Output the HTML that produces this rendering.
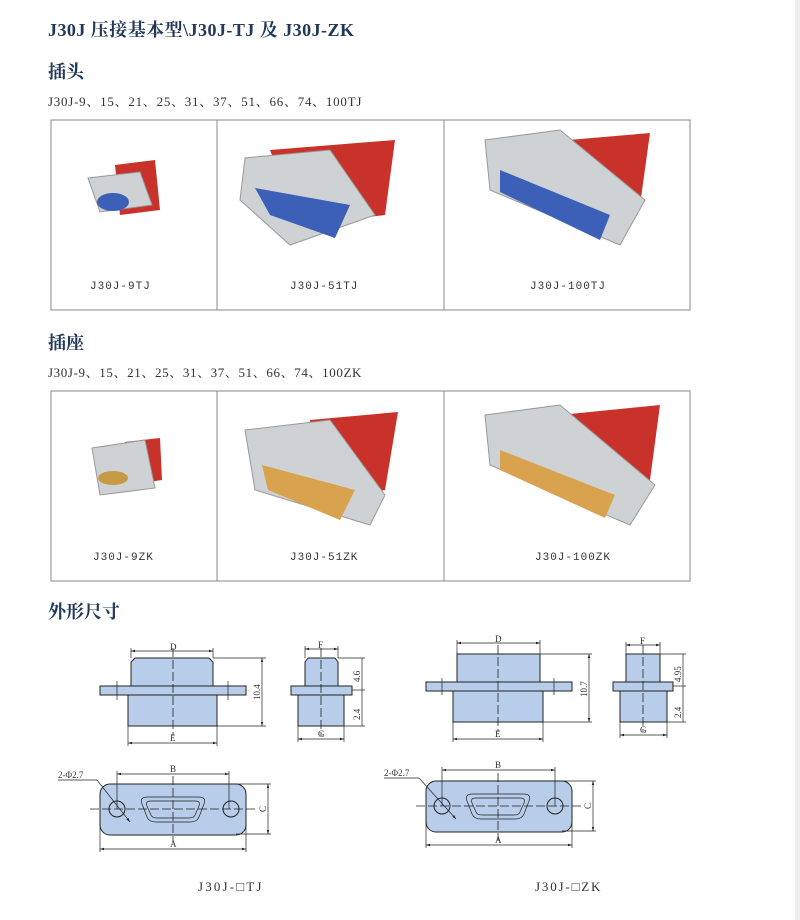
<!DOCTYPE html>
<html><head><meta charset="utf-8"><style>
body{margin:0;background:#fff;}
svg{display:block}
.t{font-family:"Liberation Serif","Noto Serif CJK SC",serif;font-weight:bold;fill:#22385a;font-size:18px}
.s{font-family:"Liberation Serif","Noto Serif CJK SC",serif;fill:#333;font-size:13px;letter-spacing:0.6px}
.l{font-family:"Liberation Mono","Noto Sans CJK SC",monospace;fill:#333;font-size:11px;letter-spacing:1px}
.d{font-family:"Liberation Serif",serif;fill:#333;font-size:9px}
.b{fill:#b7cdea;stroke:#222;stroke-width:1}
.c{stroke:#222;stroke-width:0.8;stroke-dasharray:9 3;fill:none}
.m{stroke:#222;stroke-width:0.7;fill:none}
</style></head><body>
<svg width="800" height="920" viewBox="0 0 800 920" xmlns="http://www.w3.org/2000/svg">
<defs>
<marker id="a" viewBox="0 0 10 10" refX="10" refY="5" markerWidth="6" markerHeight="6" orient="auto-start-reverse"><path d="M0,2L10,5L0,8z" fill="#222"/></marker>
</defs>
<rect x="795" y="0" width="5" height="920" fill="#eee"/>
<text class="t" x="48" y="36" textLength="306">J30J 压接基本型\J30J-TJ 及 J30J-ZK</text>
<text class="t" x="48" y="78">插头</text>
<text class="s" x="48" y="106" textLength="314">J30J-9、15、21、25、31、37、51、66、74、100TJ</text>
<rect x="51" y="120" width="639" height="190" fill="none" stroke="#888"/>
<line x1="217" y1="120" x2="217" y2="310" stroke="#888"/><line x1="444" y1="120" x2="444" y2="310" stroke="#888"/>
<text class="l" x="90" y="289">J30J-9TJ</text><text class="l" x="290" y="289">J30J-51TJ</text><text class="l" x="530" y="289">J30J-100TJ</text>

<g>
<path d="M115 165L155 160L160 210L120 215z" fill="#c8322b"/>
<path d="M88 178L140 172L152 205L100 212z" fill="#cfd2d4" stroke="#999"/>
<ellipse cx="113" cy="202" rx="16" ry="9" fill="#3c5fb8"/>
<path d="M270 150L395 140L385 215L300 225z" fill="#c8322b"/>
<path d="M245 158L330 150L375 215L290 245L240 200z" fill="#cfd2d4" stroke="#999"/>
<path d="M255 188L350 205L335 238L270 215z" fill="#3c5fb8"/>
<path d="M510 145L650 133L640 205L560 220z" fill="#c8322b"/>
<path d="M485 140L560 130L645 200L620 245L490 190z" fill="#cfd2d4" stroke="#999"/>
<path d="M500 170L610 215L600 240L500 192z" fill="#3c5fb8"/>
</g>

<text class="t" x="48" y="349">插座</text>
<text class="s" x="48" y="377" textLength="314">J30J-9、15、21、25、31、37、51、66、74、100ZK</text>
<rect x="51" y="391" width="639" height="190" fill="none" stroke="#888"/>
<line x1="217" y1="391" x2="217" y2="581" stroke="#888"/><line x1="444" y1="391" x2="444" y2="581" stroke="#888"/>
<text class="l" x="93" y="560">J30J-9ZK</text><text class="l" x="290" y="560">J30J-51ZK</text><text class="l" x="535" y="560">J30J-100ZK</text>
<g>
<path d="M125 442L160 438L162 480L128 485z" fill="#c8322b"/>
<path d="M92 448L145 440L155 488L100 495z" fill="#cfd2d4" stroke="#999"/>
<ellipse cx="113" cy="478" rx="15" ry="7" fill="#c79a45"/>
<path d="M310 420L398 412L385 490L320 500z" fill="#c8322b"/>
<path d="M245 430L330 420L385 495L370 525L255 490z" fill="#cfd2d4" stroke="#999"/>
<path d="M262 465L355 490L340 520L268 490z" fill="#d9a24e"/>
<path d="M530 418L660 405L650 480L570 495z" fill="#c8322b"/>
<path d="M485 415L560 405L655 485L630 525L490 465z" fill="#cfd2d4" stroke="#999"/>
<path d="M500 450L615 495L605 518L500 470z" fill="#d9a24e"/>
</g>

<text class="t" x="48" y="618">外形尺寸</text>

<!-- Drawing 1 -->
<path class="b" d="M131 686V662L135 658H209L213 662V686z"/>
<rect class="b" x="100" y="686" width="146" height="9"/>
<rect class="b" x="128" y="695" width="89" height="31"/>
<line class="c" x1="173" y1="648" x2="173" y2="736"/>
<line class="m" x1="117" y1="681" x2="117" y2="700"/><line class="m" x1="228" y1="681" x2="228" y2="700"/>
<line class="m" x1="131" y1="648" x2="131" y2="658"/><line class="m" x1="213" y1="648" x2="213" y2="658"/>
<line class="m" x1="131" y1="651" x2="213" y2="651" marker-start="url(#a)" marker-end="url(#a)"/>
<text class="d" x="170" y="650">D</text>
<line class="m" x1="128" y1="726" x2="128" y2="746"/><line class="m" x1="217" y1="726" x2="217" y2="746"/>
<line class="m" x1="128" y1="743" x2="217" y2="743" marker-start="url(#a)" marker-end="url(#a)"/>
<text class="d" x="170" y="741">E</text>
<line class="m" x1="213" y1="658" x2="266" y2="658"/><line class="m" x1="217" y1="726" x2="266" y2="726"/>
<line class="m" x1="262" y1="658" x2="262" y2="726" marker-start="url(#a)" marker-end="url(#a)"/>
<text class="d" transform="translate(260,700) rotate(-90)">10.4</text>

<path class="b" d="M305 686V662L308 658H335L338 662V686z"/>
<rect class="b" x="291" y="686" width="61" height="9"/>
<rect class="b" x="298" y="695" width="46" height="31"/>
<line class="c" x1="321" y1="648" x2="321" y2="736"/>
<line class="m" x1="305" y1="646" x2="305" y2="658"/><line class="m" x1="338" y1="646" x2="338" y2="658"/>
<line class="m" x1="305" y1="649" x2="338" y2="649" marker-start="url(#a)" marker-end="url(#a)"/>
<text class="d" x="318" y="648">F</text>
<line class="m" x1="298" y1="726" x2="298" y2="742"/><line class="m" x1="344" y1="726" x2="344" y2="742"/>
<line class="m" x1="298" y1="739" x2="344" y2="739" marker-start="url(#a)" marker-end="url(#a)"/>
<text class="d" x="318" y="737">G</text>
<line class="m" x1="338" y1="658" x2="365" y2="658"/><line class="m" x1="352" y1="690" x2="365" y2="690"/><line class="m" x1="344" y1="726" x2="365" y2="726"/>
<line class="m" x1="362" y1="658" x2="362" y2="726"/>
<text class="d" transform="translate(360,682) rotate(-90)">4.6</text>
<text class="d" transform="translate(360,720) rotate(-90)">2.4</text>

<rect class="b" x="100" y="784" width="146" height="51" rx="10"/>
<circle class="b" cx="117" cy="809" r="8"/><circle class="b" cx="231" cy="809" r="8"/>
<path class="m" d="M148 797H198Q207 797 204 804L199 817Q197 822 190 822H156Q149 822 147 817L142 804Q139 797 148 797z"/>
<path class="m" d="M151 801H195Q201 801 199 806L195 815Q194 818 189 818H157Q152 818 151 815L147 806Q145 801 151 801z"/>
<line class="c" x1="90" y1="809" x2="258" y2="809"/><line class="c" x1="173" y1="776" x2="173" y2="842"/>
<line class="m" x1="117" y1="771" x2="117" y2="809"/><line class="m" x1="229" y1="771" x2="229" y2="809"/>
<line class="m" x1="117" y1="774" x2="229" y2="774" marker-start="url(#a)" marker-end="url(#a)"/>
<text class="d" x="170" y="772">B</text>
<line class="m" x1="100" y1="820" x2="100" y2="852"/><line class="m" x1="246" y1="820" x2="246" y2="852"/>
<line class="m" x1="100" y1="849" x2="246" y2="849" marker-start="url(#a)" marker-end="url(#a)"/>
<text class="d" x="170" y="847">A</text>
<line class="m" x1="236" y1="784" x2="271" y2="784"/><line class="m" x1="236" y1="834" x2="271" y2="834"/>
<line class="m" x1="268" y1="784" x2="268" y2="834" marker-start="url(#a)" marker-end="url(#a)"/>
<text class="d" transform="translate(266,812) rotate(-90)">C</text>
<text class="d" x="58" y="778" font-size="10">2-Φ2.7</text>
<line class="m" x1="58" y1="780" x2="97" y2="780"/><line class="m" x1="97" y1="780" x2="130" y2="822" marker-end="url(#a)"/>
<text class="s" x="198" y="891" font-size="15" textLength="64">J30J-□TJ</text>

<!-- Drawing 2 -->
<rect class="b" x="457" y="654" width="83" height="28"/>
<rect class="b" x="426" y="682" width="146" height="9"/>
<rect class="b" x="453" y="691" width="90" height="31"/>
<line class="c" x1="498" y1="645" x2="498" y2="732"/>
<line class="m" x1="442" y1="678" x2="442" y2="695"/><line class="m" x1="554" y1="678" x2="554" y2="695"/>
<line class="m" x1="457" y1="640" x2="457" y2="654"/><line class="m" x1="540" y1="640" x2="540" y2="654"/>
<line class="m" x1="457" y1="643" x2="540" y2="643" marker-start="url(#a)" marker-end="url(#a)"/>
<text class="d" x="495" y="642">D</text>
<line class="m" x1="453" y1="722" x2="453" y2="742"/><line class="m" x1="543" y1="722" x2="543" y2="742"/>
<line class="m" x1="453" y1="739" x2="543" y2="739" marker-start="url(#a)" marker-end="url(#a)"/>
<text class="d" x="495" y="737">E</text>
<line class="m" x1="540" y1="654" x2="592" y2="654"/><line class="m" x1="543" y1="722" x2="592" y2="722"/>
<line class="m" x1="589" y1="654" x2="589" y2="722" marker-start="url(#a)" marker-end="url(#a)"/>
<text class="d" transform="translate(587,697) rotate(-90)">10.7</text>

<rect class="b" x="626" y="654" width="34" height="28"/>
<rect class="b" x="613" y="682" width="60" height="9"/>
<rect class="b" x="620" y="691" width="47" height="31"/>
<line class="c" x1="643" y1="645" x2="643" y2="732"/>
<line class="m" x1="626" y1="642" x2="626" y2="654"/><line class="m" x1="660" y1="642" x2="660" y2="654"/>
<line class="m" x1="626" y1="645" x2="660" y2="645" marker-start="url(#a)" marker-end="url(#a)"/>
<text class="d" x="640" y="644">F</text>
<line class="m" x1="620" y1="722" x2="620" y2="738"/><line class="m" x1="667" y1="722" x2="667" y2="738"/>
<line class="m" x1="620" y1="735" x2="667" y2="735" marker-start="url(#a)" marker-end="url(#a)"/>
<text class="d" x="640" y="733">G</text>
<line class="m" x1="660" y1="654" x2="686" y2="654"/><line class="m" x1="673" y1="686" x2="686" y2="686"/><line class="m" x1="667" y1="722" x2="686" y2="722"/>
<line class="m" x1="683" y1="654" x2="683" y2="722"/>
<text class="d" transform="translate(681,682) rotate(-90)">4.95</text>
<text class="d" transform="translate(681,718) rotate(-90)">2.4</text>

<rect class="b" x="426" y="781" width="146" height="51" rx="10"/>
<circle class="b" cx="442" cy="806" r="8"/><circle class="b" cx="555" cy="806" r="8"/>
<path class="m" d="M473 794H523Q532 794 529 801L524 814Q522 819 515 819H481Q474 819 472 814L467 801Q464 794 473 794z"/>
<path class="m" d="M476 798H520Q526 798 524 803L520 812Q519 815 514 815H482Q477 815 476 812L472 803Q470 798 476 798z"/>
<line class="c" x1="416" y1="806" x2="584" y2="806"/><line class="c" x1="498" y1="773" x2="498" y2="840"/>
<line class="m" x1="442" y1="767" x2="442" y2="806"/><line class="m" x1="555" y1="767" x2="555" y2="806"/>
<line class="m" x1="442" y1="770" x2="555" y2="770" marker-start="url(#a)" marker-end="url(#a)"/>
<text class="d" x="495" y="768">B</text>
<line class="m" x1="426" y1="817" x2="426" y2="848"/><line class="m" x1="572" y1="817" x2="572" y2="848"/>
<line class="m" x1="426" y1="845" x2="572" y2="845" marker-start="url(#a)" marker-end="url(#a)"/>
<text class="d" x="495" y="843">A</text>
<line class="m" x1="562" y1="781" x2="596" y2="781"/><line class="m" x1="562" y1="831" x2="596" y2="831"/>
<line class="m" x1="593" y1="781" x2="593" y2="831" marker-start="url(#a)" marker-end="url(#a)"/>
<text class="d" transform="translate(591,809) rotate(-90)">C</text>
<text class="d" x="384" y="776" font-size="10">2-Φ2.7</text>
<line class="m" x1="384" y1="778" x2="419" y2="778"/><line class="m" x1="419" y1="778" x2="456" y2="819" marker-end="url(#a)"/>
<text class="s" x="535" y="891" font-size="15" textLength="66">J30J-□ZK</text>
</svg>
</body></html>
